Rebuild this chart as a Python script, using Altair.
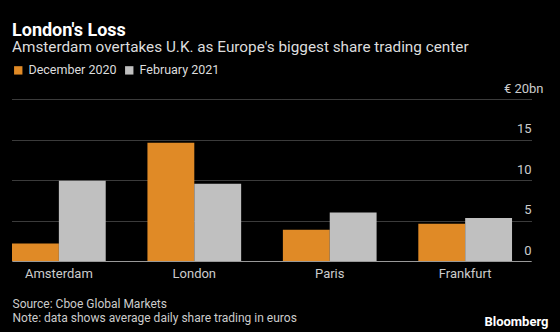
import altair as alt
import pandas as pd

cities = ["Amsterdam", "London", "Paris", "Frankfurt"]
dec_2020 = [2.15, 14.6, 3.85, 4.6]
feb_2021 = [9.9, 9.55, 6.0, 5.3]
series = ["December 2020", "February 2021"]
colors = ["#E08A26", "#C0C0C0"]

rows = []
for i, c in enumerate(cities):
    rows.append({"city": c, "series": series[0], "value": dec_2020[i]})
    rows.append({"city": c, "series": series[1], "value": feb_2021[i]})
df = pd.DataFrame(rows)

FONT = "Roboto"

chart = alt.Chart(df).mark_bar().encode(
    x=alt.X("city:N", sort=cities,
            scale=alt.Scale(paddingInner=0.308, paddingOuter=0.07, align=0),
            axis=alt.Axis(title=["Source: Cboe Global Markets",
                                 "Note: data shows average daily share trading in euros"],
                          titleAnchor="start", titleAlign="left", titleBaseline="top",
                          titleX=0, titleY=37, titleLineHeight=14,
                          titleFontSize=12, titleFontWeight="normal", titleColor="#cccccc",
                          titleFont=FONT,
                          labelAngle=0, labelFontSize=13, labelColor="#cccccc", labelFont=FONT,
                          labelPadding=6, ticks=False, domain=True, domainColor="#999999",
                          domainWidth=1, grid=False)),
    xOffset=alt.XOffset("series:N", sort=series,
                        scale=alt.Scale(paddingInner=0, paddingOuter=0)),
    y=alt.Y("value:Q",
            scale=alt.Scale(domain=[0, 20], nice=False),
            axis=alt.Axis(orient="right", values=[0, 5, 10, 15, 20],
                          labelExpr="datum.value == 20 ? '€ 20bn' : datum.label",
                          labelAlign="right",
                          labelPadding={"condition": {"test": "datum.value == 20", "value": 12}, "value": 0},
                          labelBaseline="alphabetic", labelOffset=-7,
                          labelFontSize=13, labelColor="#cccccc", labelFont=FONT,
                          ticks=False, domain=False, grid=True,
                          gridDash=[1, 1], gridColor="#777777", gridWidth=1,
                          title="Bloomberg", titleAngle=0, titleAlign="right",
                          titleBaseline="top", titleX=17, titleY=216,
                          titleFontSize=13, titleFontWeight="bold", titleColor="#ffffff",
                          titleFont=FONT)),
    color=alt.Color("series:N", sort=series,
                    scale=alt.Scale(domain=series, range=colors),
                    legend=alt.Legend(title=None, orient="none", legendX=0, legendY=-35,
                                      direction="horizontal", symbolType="square",
                                      symbolSize=70, symbolStrokeWidth=0, symbolOpacity=1,
                                      labelFontSize=12.5, labelColor="#dddddd", labelFont=FONT,
                                      columnPadding=6, labelOffset=4, padding=0)),
).properties(
    width=519,
    height=162,
    background="#000000",
    padding={"left": 12, "top": 99, "right": 29, "bottom": 71},
    autosize=alt.AutoSizeParams(type="none"),
    title=alt.TitleParams(
        text="London's Loss",
        subtitle="Amsterdam overtakes U.K. as Europe's biggest share trading center",
        anchor="start", frame="group", orient="top",
        font=FONT, fontSize=18, fontWeight="bold", color="#ffffff", lineHeight=18,
        subtitleFont=FONT, subtitleFontSize=15.3, subtitleColor="#dddddd",
        subtitlePadding=0, offset=9,
    ),
).configure_view(stroke=None)

chart.save("out.html", embed_options={"renderer": "svg", "actions": False})
